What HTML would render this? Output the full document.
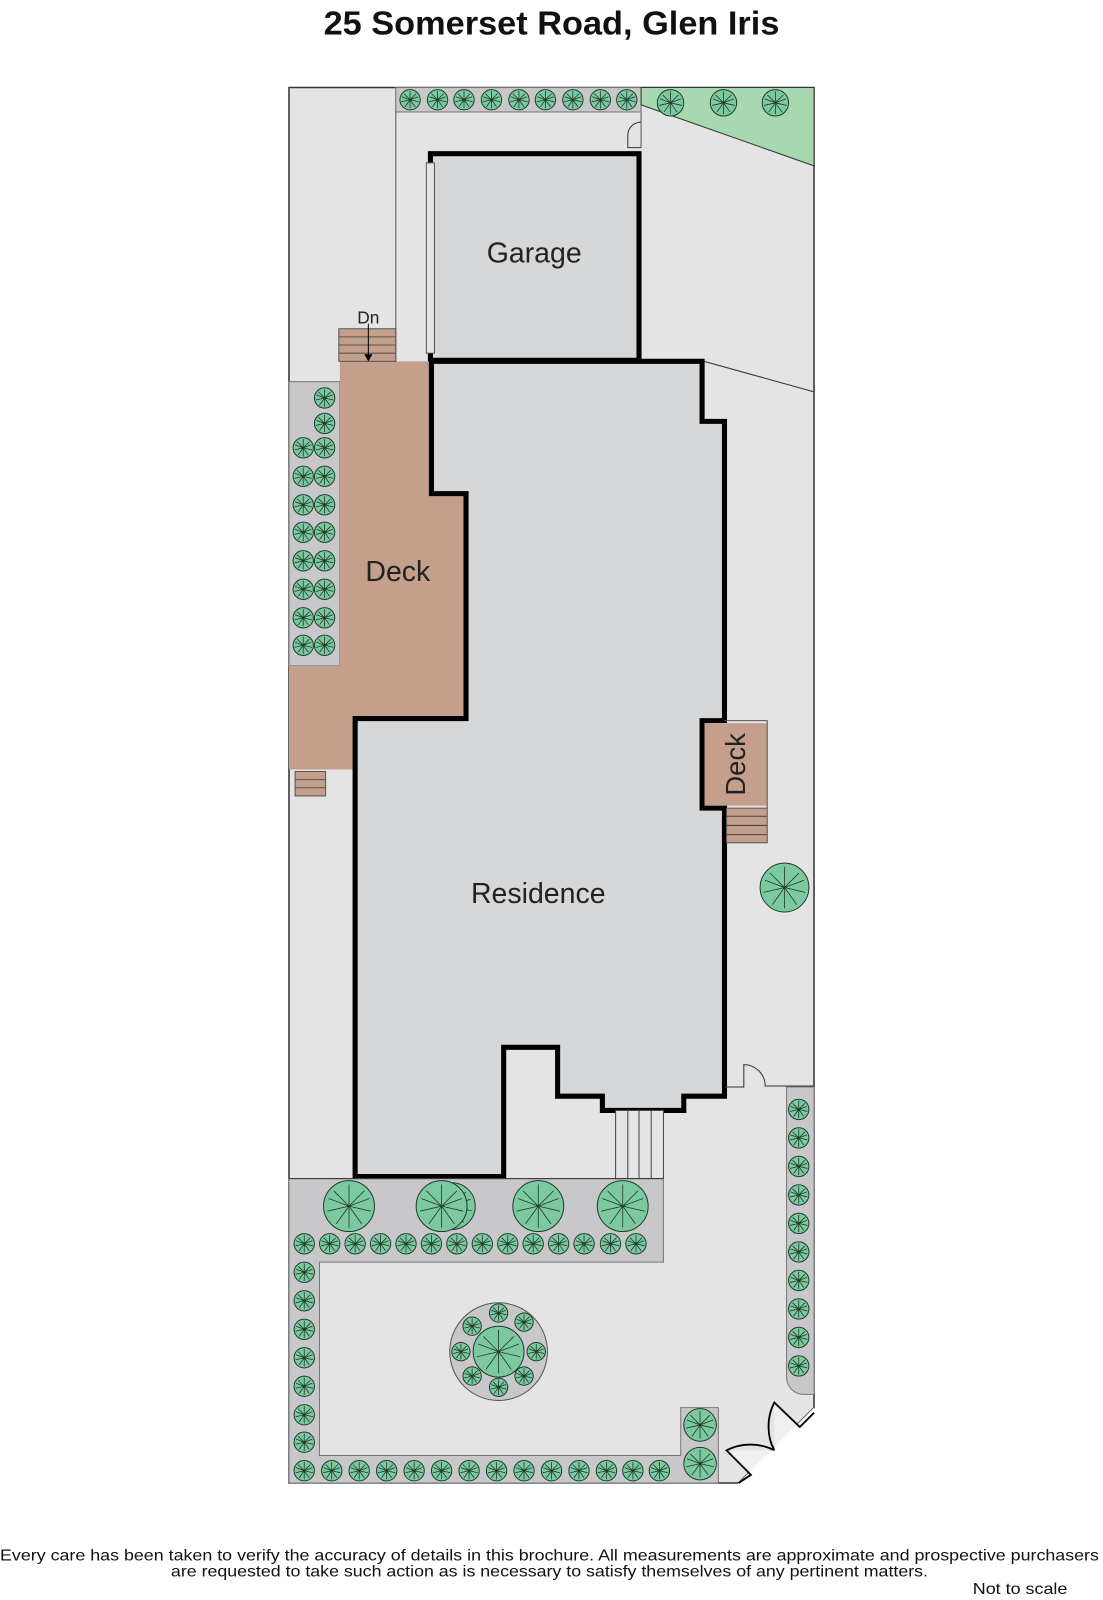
<!DOCTYPE html>
<html><head><meta charset="utf-8"><style>
html,body{margin:0;padding:0;background:#fff;}
svg{display:block;}
</style></head><body>
<svg width="1103" height="1600" viewBox="0 0 1084 1572" preserveAspectRatio="none" xmlns="http://www.w3.org/2000/svg" font-family="'Liberation Sans', sans-serif">
<defs>
<g id="s">
<circle r="1" fill="#7cc89f" stroke="#1e3a2c" stroke-width="1" vector-effect="non-scaling-stroke"/>
<path d="M0,0L0,-.85M0,0L.8,-.3M0,0L.5,.7M0,0L-.5,.7M0,0L-.8,-.3M0,0L.6,-.6M0,0L-.6,-.6M0,0L.85,.2M0,0L-.85,.2M0,0L0,.85" stroke="#1e3a2c" stroke-width="0.8" vector-effect="non-scaling-stroke"/>
</g>
</defs>
<rect width="1084" height="1572" fill="#fff"/>
<text x="542" y="34" font-size="33" font-weight="bold" text-anchor="middle" textLength="448" lengthAdjust="spacingAndGlyphs" fill="#111">25 Somerset Road, Glen Iris</text>

<polygon points="284,86 800,86 800,1383 726,1457 284,1457" fill="#e4e4e5" stroke="#333" stroke-width="1.5"/>
<line x1="389" y1="86" x2="389" y2="355" stroke="#555" stroke-width="1"/>
<line x1="630" y1="86" x2="630" y2="145" stroke="#555" stroke-width="1"/>
<rect x="389" y="86" width="241" height="24" fill="#c8c8ca" stroke="#777" stroke-width="1"/>
<polygon points="630,86 800,86 800,163 630,103" fill="#a8d8b0" stroke="#333" stroke-width="1"/>
<line x1="692" y1="355" x2="800" y2="385" stroke="#333" stroke-width="1"/>
<path d="M630,120 A13,13 0 0 0 617,133 L617,145 L630,145" fill="none" stroke="#333" stroke-width="1"/>

<rect x="423" y="151" width="205" height="203" fill="#d6d7d8" stroke="#000" stroke-width="5"/>
<rect x="419" y="160" width="8" height="187" fill="#e4e4e5" stroke="#555" stroke-width="1"/>
<text x="525" y="258" font-size="28" text-anchor="middle" fill="#222">Garage</text>

<rect x="284" y="375" width="50" height="279" fill="#c8c8ca" stroke="#777" stroke-width="1"/>
<polygon points="334,355 424,355 424,485 458,485 458,706 349,706 349,756 284,756 284,654 334,654" fill="#c4a08c"/>
<rect x="333" y="323" width="56" height="32" fill="#c4a08c" stroke="#555" stroke-width="1"/>
<g stroke="#555" stroke-width="1"><line x1="333" y1="331" x2="389" y2="331"/><line x1="333" y1="339" x2="389" y2="339"/><line x1="333" y1="347" x2="389" y2="347"/></g>
<line x1="362" y1="318" x2="362" y2="350" stroke="#000" stroke-width="1"/>
<polygon points="358,348 366,348 362,355" fill="#000"/>
<text x="362" y="318" font-size="17" text-anchor="middle" fill="#222">Dn</text>
<rect x="290" y="758" width="30" height="24" fill="#c4a08c" stroke="#555" stroke-width="1"/>
<g stroke="#555" stroke-width="1"><line x1="290" y1="766" x2="320" y2="766"/><line x1="290" y1="774" x2="320" y2="774"/></g>
<text x="391" y="571" font-size="28" text-anchor="middle" fill="#222">Deck</text>

<polygon points="424,355 690,355 690,414 712,414 712,708 690,708 690,794 712,794 712,1077 672,1077 672,1091 592,1091 592,1077 548,1077 548,1029 495,1029 495,1156 349,1156 349,706 458,706 458,485 424,485" fill="#d6d7d8" stroke="#000" stroke-width="5" stroke-linejoin="miter"/>
<text x="529" y="887" font-size="28" text-anchor="middle" fill="#222">Residence</text>

<rect x="692.5" y="710.5" width="61.5" height="81" fill="#c4a08c"/>
<path d="M712,708 L754,708 L754,794" fill="none" stroke="#555" stroke-width="1"/>
<rect x="714" y="794" width="40" height="34" fill="#c4a08c" stroke="#555" stroke-width="1"/>
<g stroke="#444" stroke-width="1"><line x1="714" y1="802" x2="754" y2="802"/><line x1="714" y1="811" x2="754" y2="811"/><line x1="714" y1="820" x2="754" y2="820"/></g>
<text transform="translate(722,751) rotate(-90)" font-size="27" text-anchor="middle" fill="#222" dy="10">Deck</text>
<use href="#s" transform="translate(771,872) scale(24)"/>

<path d="M712,1068 L731,1068 L731,1046 A21,21 0 0 1 752,1067 L800,1067" fill="none" stroke="#333" stroke-width="1"/>

<rect x="605" y="1091" width="47" height="67" fill="#e4e4e5" stroke="#444" stroke-width="1"/>
<g stroke="#444" stroke-width="1"><line x1="617" y1="1091" x2="617" y2="1158"/><line x1="628" y1="1091" x2="628" y2="1158"/><line x1="640" y1="1091" x2="640" y2="1158"/></g>

<polygon points="284,1158 652,1158 652,1240 314,1240 314,1430 669,1430 669,1383 706,1383 706,1457 284,1457" fill="#c8c8ca" stroke="#777" stroke-width="1"/>
<path d="M773,1068 L800,1068 L800,1370 L790,1370 A17,17 0 0 1 773,1353 Z" fill="#c8c8ca" stroke="#777" stroke-width="1"/>
<line x1="284" y1="1158" x2="652" y2="1158" stroke="#333" stroke-width="1"/>
<circle cx="490" cy="1328" r="48" fill="#c8c8ca" stroke="#555" stroke-width="1"/>

<!-- corner gate -->
<polygon points="761,1425 761,1378 786,1402 800,1388 800,1457 726,1457 738,1449 714,1425" fill="#f0f0f0"/>
<polygon points="800,1383 800,1460 723,1460" fill="#fff"/>
<path d="M726,1457 L738,1449 L714,1425 A40,30 0 0 1 761,1425 M761,1425 A30,40 0 0 1 761,1378 L786,1402 L800,1388" fill="none" stroke="#000" stroke-width="1.8"/>

<g>
<use href="#s" transform="translate(403,98) scale(10)"/><use href="#s" transform="translate(430,98) scale(10)"/><use href="#s" transform="translate(456,98) scale(10)"/><use href="#s" transform="translate(483,98) scale(10)"/><use href="#s" transform="translate(510,98) scale(10)"/><use href="#s" transform="translate(536,98) scale(10)"/><use href="#s" transform="translate(563,98) scale(10)"/><use href="#s" transform="translate(590,98) scale(10)"/><use href="#s" transform="translate(616,98) scale(10)"/>
<use href="#s" transform="translate(659,101) scale(13)"/><use href="#s" transform="translate(711,101) scale(13)"/><use href="#s" transform="translate(762,101) scale(13)"/>
</g>
<g>
<use href="#s" transform="translate(319,391) scale(10)"/><use href="#s" transform="translate(319,416) scale(10)"/>
<use href="#s" transform="translate(298,440) scale(10)"/><use href="#s" transform="translate(319,440) scale(10)"/>
<use href="#s" transform="translate(298,468) scale(10)"/><use href="#s" transform="translate(319,468) scale(10)"/>
<use href="#s" transform="translate(298,496) scale(10)"/><use href="#s" transform="translate(319,496) scale(10)"/>
<use href="#s" transform="translate(298,523) scale(10)"/><use href="#s" transform="translate(319,523) scale(10)"/>
<use href="#s" transform="translate(298,551) scale(10)"/><use href="#s" transform="translate(319,551) scale(10)"/>
<use href="#s" transform="translate(298,579) scale(10)"/><use href="#s" transform="translate(319,579) scale(10)"/>
<use href="#s" transform="translate(298,607) scale(10)"/><use href="#s" transform="translate(319,607) scale(10)"/>
<use href="#s" transform="translate(298,634) scale(10)"/><use href="#s" transform="translate(319,634) scale(10)"/>
</g>
<use href="#s" transform="translate(343,1185) scale(25)"/>
<use href="#s" transform="translate(444,1185) scale(23)"/>
<use href="#s" transform="translate(434,1185) scale(25)"/>
<use href="#s" transform="translate(529,1185) scale(25)"/>
<use href="#s" transform="translate(612,1185) scale(25)"/>
<g>
<use href="#s" transform="translate(299,1222) scale(10)"/><use href="#s" transform="translate(324,1222) scale(10)"/><use href="#s" transform="translate(349,1222) scale(10)"/><use href="#s" transform="translate(374,1222) scale(10)"/><use href="#s" transform="translate(399,1222) scale(10)"/><use href="#s" transform="translate(424,1222) scale(10)"/><use href="#s" transform="translate(449,1222) scale(10)"/><use href="#s" transform="translate(474,1222) scale(10)"/><use href="#s" transform="translate(499,1222) scale(10)"/><use href="#s" transform="translate(524,1222) scale(10)"/><use href="#s" transform="translate(549,1222) scale(10)"/><use href="#s" transform="translate(574,1222) scale(10)"/><use href="#s" transform="translate(600,1222) scale(10)"/><use href="#s" transform="translate(625,1222) scale(10)"/>
</g>
<g>
<use href="#s" transform="translate(299,1250) scale(10)"/><use href="#s" transform="translate(299,1278) scale(10)"/><use href="#s" transform="translate(299,1306) scale(10)"/><use href="#s" transform="translate(299,1334) scale(10)"/><use href="#s" transform="translate(299,1362) scale(10)"/><use href="#s" transform="translate(299,1390) scale(10)"/><use href="#s" transform="translate(299,1417) scale(10)"/><use href="#s" transform="translate(299,1445) scale(10)"/>
</g>
<g>
<use href="#s" transform="translate(326,1445) scale(10)"/><use href="#s" transform="translate(353,1445) scale(10)"/><use href="#s" transform="translate(380,1445) scale(10)"/><use href="#s" transform="translate(407,1445) scale(10)"/><use href="#s" transform="translate(434,1445) scale(10)"/><use href="#s" transform="translate(461,1445) scale(10)"/><use href="#s" transform="translate(488,1445) scale(10)"/><use href="#s" transform="translate(515,1445) scale(10)"/><use href="#s" transform="translate(542,1445) scale(10)"/><use href="#s" transform="translate(569,1445) scale(10)"/><use href="#s" transform="translate(596,1445) scale(10)"/><use href="#s" transform="translate(622,1445) scale(10)"/><use href="#s" transform="translate(648,1445) scale(10)"/>
<use href="#s" transform="translate(688,1400) scale(16)"/><use href="#s" transform="translate(688,1438) scale(16)"/>
</g>
<g>
<use href="#s" transform="translate(785,1090) scale(10)"/><use href="#s" transform="translate(785,1118) scale(10)"/><use href="#s" transform="translate(785,1146) scale(10)"/><use href="#s" transform="translate(785,1174) scale(10)"/><use href="#s" transform="translate(785,1202) scale(10)"/><use href="#s" transform="translate(785,1230) scale(10)"/><use href="#s" transform="translate(785,1258) scale(10)"/><use href="#s" transform="translate(785,1286) scale(10)"/><use href="#s" transform="translate(785,1314) scale(10)"/><use href="#s" transform="translate(785,1342) scale(10)"/>
</g>
<g>
<use href="#s" transform="translate(490,1290) scale(9)"/><use href="#s" transform="translate(515,1299) scale(9)"/><use href="#s" transform="translate(527,1328) scale(9)"/><use href="#s" transform="translate(515,1352) scale(9)"/><use href="#s" transform="translate(490,1363) scale(9)"/><use href="#s" transform="translate(464,1352) scale(9)"/><use href="#s" transform="translate(453,1328) scale(9)"/><use href="#s" transform="translate(464,1303) scale(9)"/>
<use href="#s" transform="translate(490,1328) scale(25)"/>
</g>

<text x="0" y="1533" font-size="15" textLength="1080" lengthAdjust="spacingAndGlyphs" fill="#111">Every care has been taken to verify the accuracy of details in this brochure.  All measurements are approximate and prospective purchasers</text>
<text x="168" y="1549" font-size="15" textLength="744" lengthAdjust="spacingAndGlyphs" fill="#111">are requested to take such action as is necessary to satisfy themselves of any pertinent matters.</text>
<text x="956" y="1566" font-size="15" textLength="93" lengthAdjust="spacingAndGlyphs" fill="#111">Not to scale</text>
</svg>
</body></html>
